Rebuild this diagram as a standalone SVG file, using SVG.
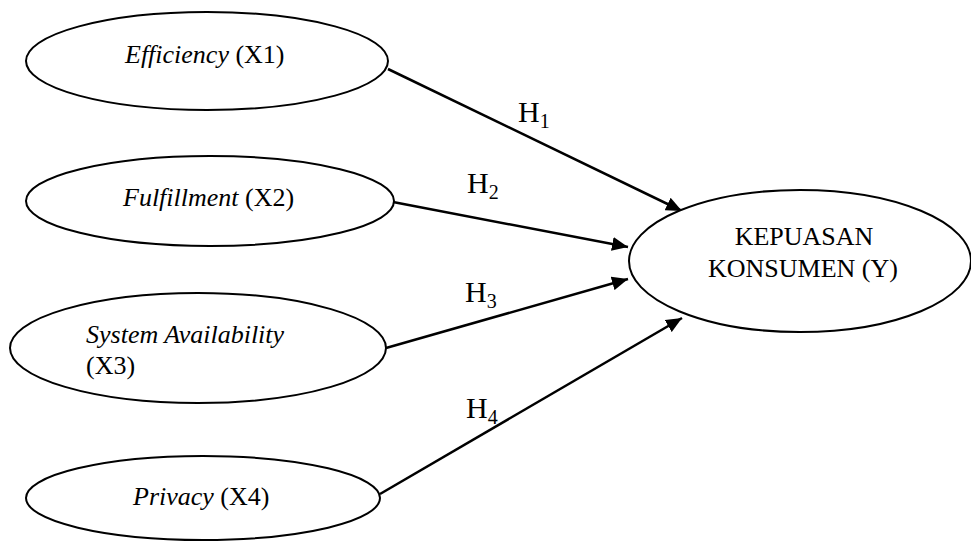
<svg xmlns="http://www.w3.org/2000/svg" width="971" height="541" viewBox="0 0 971 541">
<style>
.node ellipse{fill:#fff;stroke:#000;stroke-width:2}
.t{font-family:"Liberation Serif","Times New Roman",serif;font-size:26px;fill:#000}
.h{font-family:"Liberation Serif","Times New Roman",serif;font-size:30px;fill:#000}
.sub{font-size:20px}
.edge{stroke:#000;stroke-width:2.5;fill:none;marker-end:url(#ah)}
</style>
<defs>
<marker id="ah" markerUnits="userSpaceOnUse" markerWidth="18" markerHeight="14" refX="16" refY="7" orient="auto">
<path d="M0,0 L16,7 L0,14 Z" fill="#000"/>
</marker>
</defs>
<rect width="971" height="541" fill="#fff"/>
<g id="connectors">
<line class="edge" x1="388" y1="69" x2="682" y2="211"/>
<line class="edge" x1="393" y1="202" x2="628" y2="247"/>
<line class="edge" x1="386" y1="348" x2="628" y2="279"/>
<line class="edge" x1="380" y1="494" x2="682" y2="318"/>
</g>
<g id="x1" class="node">
<ellipse cx="207" cy="61" rx="181" ry="49"/>
<text class="t" x="125" y="63"><tspan font-style="italic">Efficiency</tspan> (X1)</text>
</g>
<g id="x2" class="node">
<ellipse cx="210" cy="201" rx="184" ry="45"/>
<text class="t" x="123" y="206"><tspan font-style="italic">Fulfillment</tspan> (X2)</text>
</g>
<g id="x3" class="node">
<ellipse cx="198" cy="348" rx="188" ry="55"/>
<text class="t" x="86" y="343"><tspan font-style="italic">System Availability</tspan></text>
<text class="t" x="86" y="374">(X3)</text>
</g>
<g id="x4" class="node">
<ellipse cx="203" cy="498" rx="177" ry="42"/>
<text class="t" x="133" y="505"><tspan font-style="italic">Privacy</tspan> (X4)</text>
</g>
<g id="y" class="node">
<ellipse cx="800" cy="261" rx="171" ry="71"/>
<text class="t" x="804" y="245" text-anchor="middle">KEPUASAN</text>
<text class="t" x="803" y="277" text-anchor="middle">KONSUMEN (Y)</text>
</g>
<g id="labels">
<text class="h" x="518" y="122">H<tspan class="sub" dy="6">1</tspan></text>
<text class="h" x="467" y="193">H<tspan class="sub" dy="6">2</tspan></text>
<text class="h" x="465" y="302">H<tspan class="sub" dy="6">3</tspan></text>
<text class="h" x="466" y="418">H<tspan class="sub" dy="6">4</tspan></text>
</g>
</svg>
